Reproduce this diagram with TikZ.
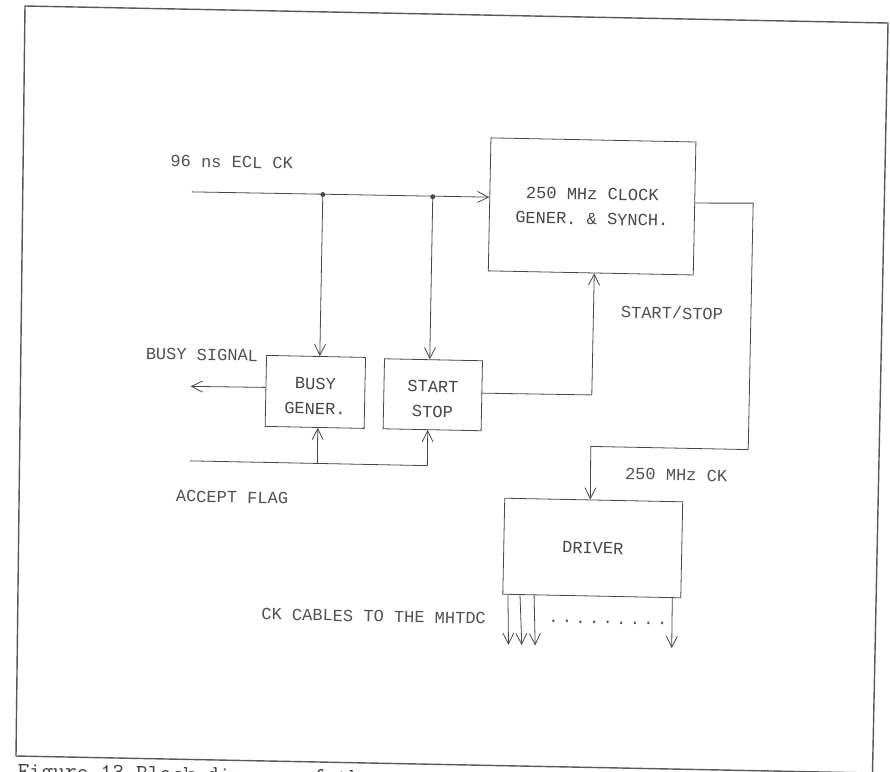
\documentclass[tikz,border=0pt]{standalone}
\usepackage{fontspec}
\setmainfont{Liberation Sans}
\newfontfamily\plotfont{Liberation Mono}
\usetikzlibrary{arrows.meta}
\newcommand\dlbl{\plotfont\fontsize{17}{25}\selectfont}
\newcommand\dd{.\hspace{3.4pt}}
\newcommand\lowtwo[2]{\raisebox{-5pt}[\height][\depth]{\begin{tabular}{@{}c@{}}#1\\#2\end{tabular}}}
\begin{document}
\begin{tikzpicture}[x=1pt,y=-1pt,
  line width=0.8pt,
  every path/.style={draw=black!72},
  box/.style={draw=black!72, line width=0.8pt, inner sep=0pt, align=center, font=\dlbl, text=black!72},
  lbl/.style={font=\dlbl, text=black!68, inner sep=0pt},
  arr/.style={-{Straight Barb[length=11pt,width=11pt]}},
  jdot/.style={circle, fill=black!70, draw=none, inner sep=0pt, minimum size=5pt}]
\useasboundingbox[fill=white, draw=none] (0,0) rectangle (890,771);
% frame
\draw[line width=1.4pt, draw=black!65] (16,756) -- (25,6) -- (888,23) -- (872.5,773) -- cycle;
\begin{scope}[rotate around={-1.15:(445,385)}, every node/.append style={transform shape}]
% boxes
\node[box, minimum width=205pt, minimum height=133pt] (clk) at (588.5,203.5) {250 MHz CLOCK\\GENER. \& SYNCH.};
\node[box, minimum width=99pt, minimum height=71pt] (busy) at (315.5,394.5) {\lowtwo{BUSY}{GENER.}};
\node[box, minimum width=98pt, minimum height=70pt] (start) at (433,395) {\lowtwo{START}{STOP}};
\node[box, minimum width=178pt, minimum height=96pt] (drv) at (596,545) {DRIVER};
% labels
\node[lbl] (lck) at (227.3,166.5) {96 ns ECL CK};
\node[lbl] (lbs) at (201.4,359.5) {BUSY SIGNAL};
\node[lbl] (laf) at (234.3,501.5) {ACCEPT FLAG};
\node[lbl] (lss) at (670.5,308.3) {START/STOP};
\node[lbl] (l250) at (677.9,470.2) {250 MHz CK};
\node[lbl] (lcab) at (378.3,617.7) {CK CABLES TO THE MHTDC};
\node[lbl] (ldots) at (612.5,619.3) {\dd\dd\dd\dd\dd\dd\dd\dd.};
% input clock line
\coordinate (in) at (188,197);
\node[jdot] (j1) at (319,197) {};
\node[jdot] (j2) at (429,197) {};
\draw[arr] (in) -- (clk.176.37);
\draw[arr] (j1.center) -- (busy.84.37);
\draw[arr] (j2.center) -- (start.96.52);
% busy signal
\coordinate (bs) at (190.7,391.5);
\draw[arr] (busy.176.53) -- (bs);
% accept flag
\coordinate (af) at (191.6,466);
\coordinate (af1) at (319,466);
\coordinate (af2) at (429,466);
\draw (af) -- (af2);
\draw[arr] (af1) -- (busy.275.63);
\draw[arr] (af2) -- (start.263.48);
% start/stop
\coordinate (ss) at (592,392);
\draw[arr] (start.3.5) -- (ss) -- (clk.273.01);
% clock output to driver
\coordinate (c1) at (749.5,197);
\coordinate (c2) at (749.5,443.5);
\coordinate (c3) at (592,443.5);
\draw[arr] (clk.3.63) -- (c1) -- (c2) -- (c3) -- (drv.94.76);
% driver outputs
\coordinate (o1) at (513.7,643.5);
\coordinate (o2) at (527,643.5);
\coordinate (o3) at (540.4,643.5);
\coordinate (o4) at (677,643.5);
\draw[arr] (drv.210.25) -- (o1);
\draw[arr] (drv.214.82) -- (o2);
\draw[arr] (drv.220.81) -- (o3);
\draw[arr] (drv.329.35) -- (o4);
\end{scope}
% caption (cut by the page edge, as in the scan)
\node[anchor=base west, inner sep=0pt, text=black!75, rotate=-1.15, font={\ttfamily\fontsize{23}{27}\selectfont}] (cap) at (17,778) {Figure 13 Block diagram of the};
\end{tikzpicture}
\end{document}
